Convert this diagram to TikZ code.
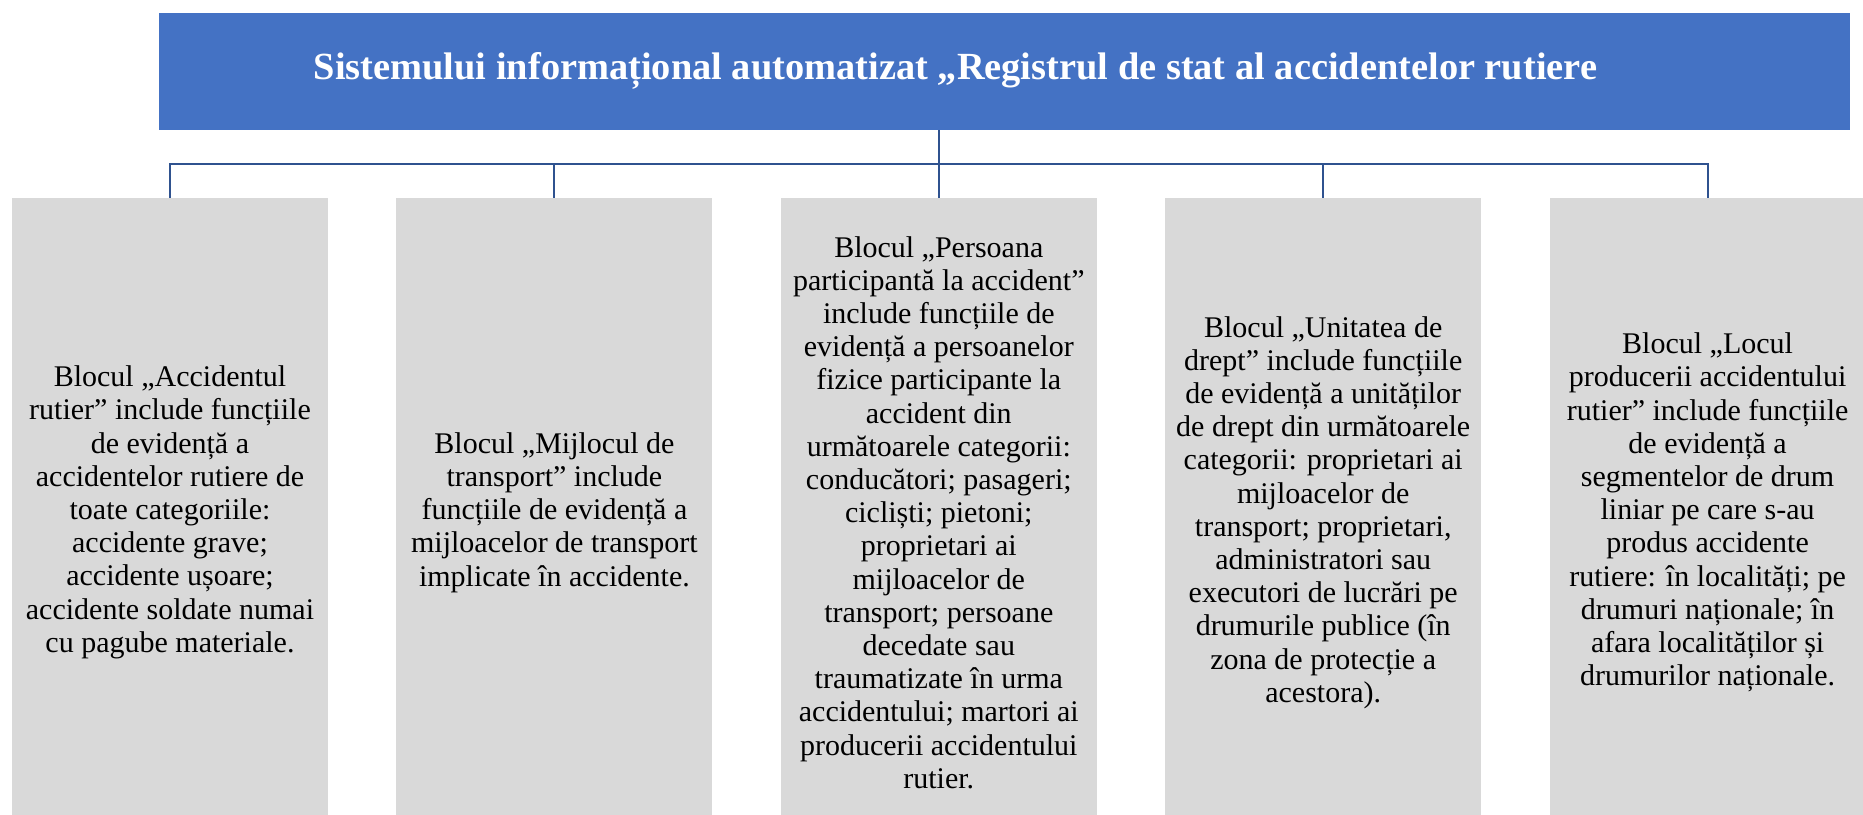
\documentclass[tikz,border=0pt]{standalone}
\usepackage{fontspec}
\setmainfont{Liberation Serif}
\usetikzlibrary{positioning}
\definecolor{titlublue}{HTML}{4472C4}
\definecolor{linkblue}{HTML}{2F528F}
\definecolor{blocgray}{HTML}{D9D9D9}

\begin{document}
\begin{tikzpicture}[
  titlu/.style={rectangle, fill=titlublue, text=white, inner sep=0pt,
                minimum width=845.5pt, minimum height=58.5pt,
                font=\fontsize{19.2}{22}\selectfont\bfseries},
  bloc/.style={rectangle, fill=blocgray, inner sep=1pt, align=center,
               minimum width=158pt, minimum height=314pt,
               font=\fontsize{15}{16.6}\selectfont},
  link/.style={draw=linkblue, line width=1pt}
]
  \useasboundingbox (0,0) rectangle (931.5pt,-407pt);
  \clip (0,0) rectangle (931.5pt,-407pt);

  \node[titlu] (sistem) at (502.25pt,-35.5pt) {Sistemului informațional automatizat „Registrul de stat al accidentelor rutiere\hspace*{49pt}};

  \node[bloc, anchor=north] (accident) at (85pt,-99pt) {Blocul „Accidentul\\rutier” include funcțiile\\de evidență a\\accidentelor rutiere de\\toate categoriile:\\accidente grave;\\accidente ușoare;\\accidente soldate numai\\cu pagube materiale.};
  \node[bloc, right=33.8pt of accident] (mijloc) {Blocul „Mijlocul de\\transport” include\\funcțiile de evidență a\\mijloacelor de transport\\implicate în accidente.};
  \node[bloc, right=33.8pt of mijloc] (persoana) {Blocul „Persoana\\participantă la accident”\\include funcțiile de\\evidență a persoanelor\\fizice participante la\\accident din\\următoarele categorii:\\conducători; pasageri;\\cicliști; pietoni;\\proprietari ai\\mijloacelor de\\transport; persoane\\decedate sau\\traumatizate în urma\\accidentului; martori ai\\producerii accidentului\\rutier.};
  \node[bloc, right=33.8pt of persoana] (unitate) {Blocul „Unitatea de\\drept” include funcțiile\\de evidență a unităților\\de drept din următoarele\\categorii: proprietari ai\\mijloacelor de\\transport; proprietari,\\administratori sau\\executori de lucrări pe\\drumurile publice (în\\zona de protecție a\\acestora).};
  \node[bloc, right=33.8pt of unitate] (locul) {Blocul „Locul\\producerii accidentului\\rutier” include funcțiile\\de evidență a\\segmentelor de drum\\liniar pe care s-au\\produs accidente\\rutiere: în localități; pe\\drumuri naționale; în\\afara localităților și\\drumurilor naționale.};

  % connectors
  \coordinate (bus) at ([yshift=16.8pt]persoana.north);
  \draw[link] (bus |- sistem.south) -- (bus);
  \foreach \b in {accident, mijloc, persoana, unitate, locul}
    \draw[link] (bus) -| (\b.north);
\end{tikzpicture}
\end{document}
